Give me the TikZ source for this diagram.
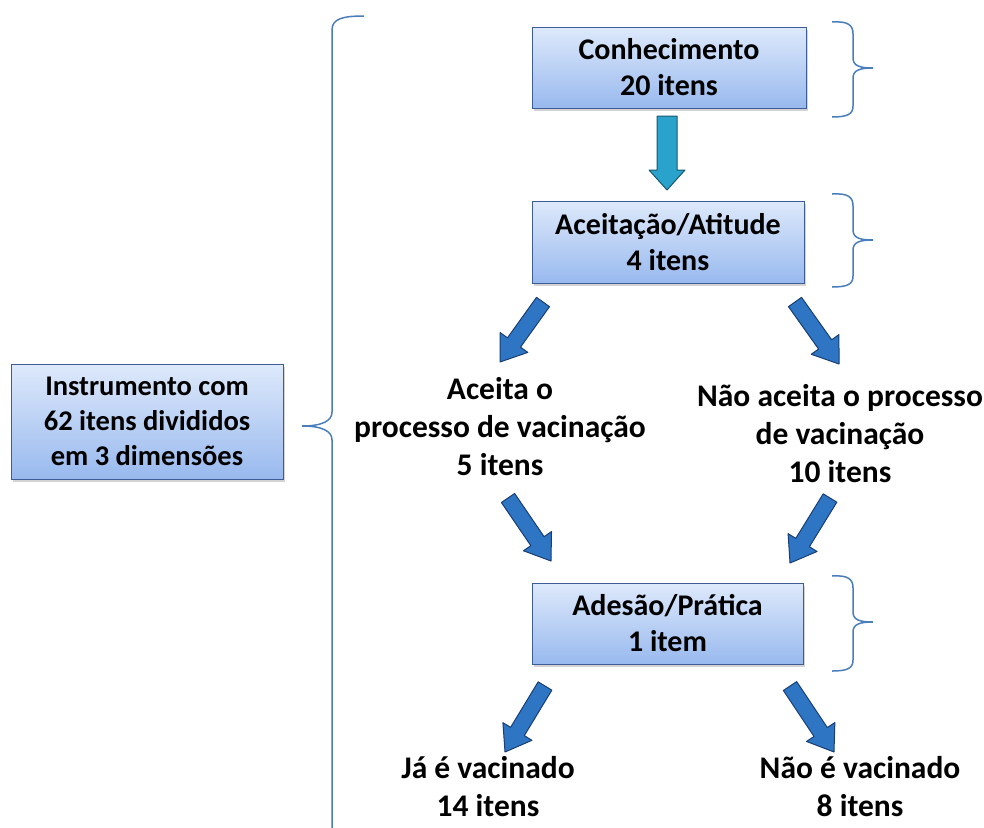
\documentclass[tikz,border=0pt]{standalone}
\usepackage{fontspec}
\setmainfont{Carlito}
\usetikzlibrary{calc,shadows}
\definecolor{boxtop}{RGB}{222,233,251}
\definecolor{boxbot}{RGB}{152,185,238}
\definecolor{boxline}{RGB}{62,92,150}
\definecolor{arrblue}{RGB}{46,117,196}
\definecolor{arrline}{RGB}{25,62,115}
\definecolor{arrteal}{RGB}{42,163,204}
\definecolor{arrtealline}{RGB}{24,88,110}
\definecolor{bracecol}{RGB}{74,126,187}
\newcommand{\fatarr}[6]{%
\draw[#1] ($(#2)!#4!90:(#3)$) -- ($(#3)!#6!(#2)!#4!-90:(#2)$) -- ($(#3)!#6!(#2)!#5!-90:(#2)$) -- (#3) -- ($(#3)!#6!(#2)!#5!90:(#2)$) -- ($(#3)!#6!(#2)!#4!90:(#2)$) -- ($(#2)!#4!-90:(#3)$) -- cycle;}
\tikzset{
  dimbox/.style={draw=boxline, line width=0.8pt, top color=boxtop, bottom color=boxbot,
    drop shadow={shadow xshift=2pt,shadow yshift=-3pt,opacity=.35},
    align=center, font=\fontsize{30}{36}\selectfont\bfseries, inner sep=0pt},
  freetext/.style={align=center, font=\fontsize{31.5}{38}\selectfont\bfseries, inner sep=0pt},
  bluearrow/.style={fill=arrblue, draw=arrline, line width=1pt, line join=round},
  tealarrow/.style={fill=arrteal, draw=arrtealline, line width=1pt, line join=round},
  bracestyle/.style={draw=bracecol, line width=1.5pt}
}
\begin{document}
\begin{tikzpicture}[x=1pt,y=-1pt]
\useasboundingbox (0,0) rectangle (984,827);
% boxes
\node[dimbox, minimum width=274pt, minimum height=81pt] (con) at (669,67.5) {Conhecimento\\20 itens};
\node[dimbox, minimum width=272pt, minimum height=82pt] (ace) at (668,242) {Aceitação/Atitude\\4 itens};
\node[dimbox, minimum width=271pt, minimum height=81pt] (ade) at (667.5,623.5) {Adesão/Prática\\1 item};
\node[dimbox, minimum width=272pt, minimum height=115pt, font=\fontsize{28.5}{35}\selectfont\bfseries] (ins) at (147,421.5) {Instrumento com\\62 itens divididos\\em 3 dimensões};
% free texts
\node[freetext] (aceita) at (500,427) {Aceita o\\processo de vacinação\\5 itens};
\node[freetext] (naoaceita) at (840,434) {Não aceita o processo\\de vacinação\\10 itens};
\node[freetext] (ja) at (488,787) {Já é vacinado\\14 itens};
\node[freetext] (naoe) at (860,787) {Não é vacinado\\8 itens};
% arrow end points
\coordinate (d0s) at (667,116); \coordinate (d0e) at (667,190);
\coordinate (a1s) at (543,302); \coordinate (a1e) at (500,362);
\coordinate (a2s) at (795,302); \coordinate (a2e) at (839,364);
\coordinate (a3s) at (508,498); \coordinate (a3e) at (551,561);
\coordinate (a4s) at (830,498); \coordinate (a4e) at (790,563);
\coordinate (a5s) at (545,686); \coordinate (a5e) at (505,752);
\coordinate (a6s) at (790,686); \coordinate (a6e) at (834,752);
\fatarr{tealarrow}{d0s}{d0e}{10pt}{18pt}{20pt}
\fatarr{bluearrow}{a1s}{a1e}{8pt}{17pt}{24pt}
\fatarr{bluearrow}{a2s}{a2e}{8pt}{17pt}{24pt}
\fatarr{bluearrow}{a3s}{a3e}{8pt}{17pt}{24pt}
\fatarr{bluearrow}{a4s}{a4e}{8pt}{17pt}{24pt}
\fatarr{bluearrow}{a5s}{a5e}{8pt}{17pt}{24pt}
\fatarr{bluearrow}{a6s}{a6e}{8pt}{17pt}{24pt}
% right braces
\draw[bracestyle] (832,22) .. controls (848,21) and (853,25) .. (853,34) -- (853,58) .. controls (853,66) and (860,68) .. (873,68) .. controls (860,68) and (853,70) .. (853,78) -- (853,106) .. controls (853,114) and (848,117) .. (832,117);
\draw[bracestyle] (832,194) .. controls (848,193) and (853,197) .. (853,206) -- (853,230) .. controls (853,238) and (860,240) .. (873,240) .. controls (860,240) and (853,242) .. (853,250) -- (853,276) .. controls (853,284) and (848,287) .. (832,287);
\draw[bracestyle] (832,576) .. controls (848,575) and (853,579) .. (853,588) -- (853,612) .. controls (853,620) and (860,622) .. (873,622) .. controls (860,622) and (853,624) .. (853,632) -- (853,660) .. controls (853,668) and (848,671) .. (832,671);
% big left brace
\draw[bracestyle] (364,16) .. controls (342,16) and (332,19) .. (332,30) -- (332,412) .. controls (332,421) and (322,426) .. (302,426) .. controls (322,426) and (332,431) .. (332,440) -- (332,830);
\end{tikzpicture}
\end{document}
